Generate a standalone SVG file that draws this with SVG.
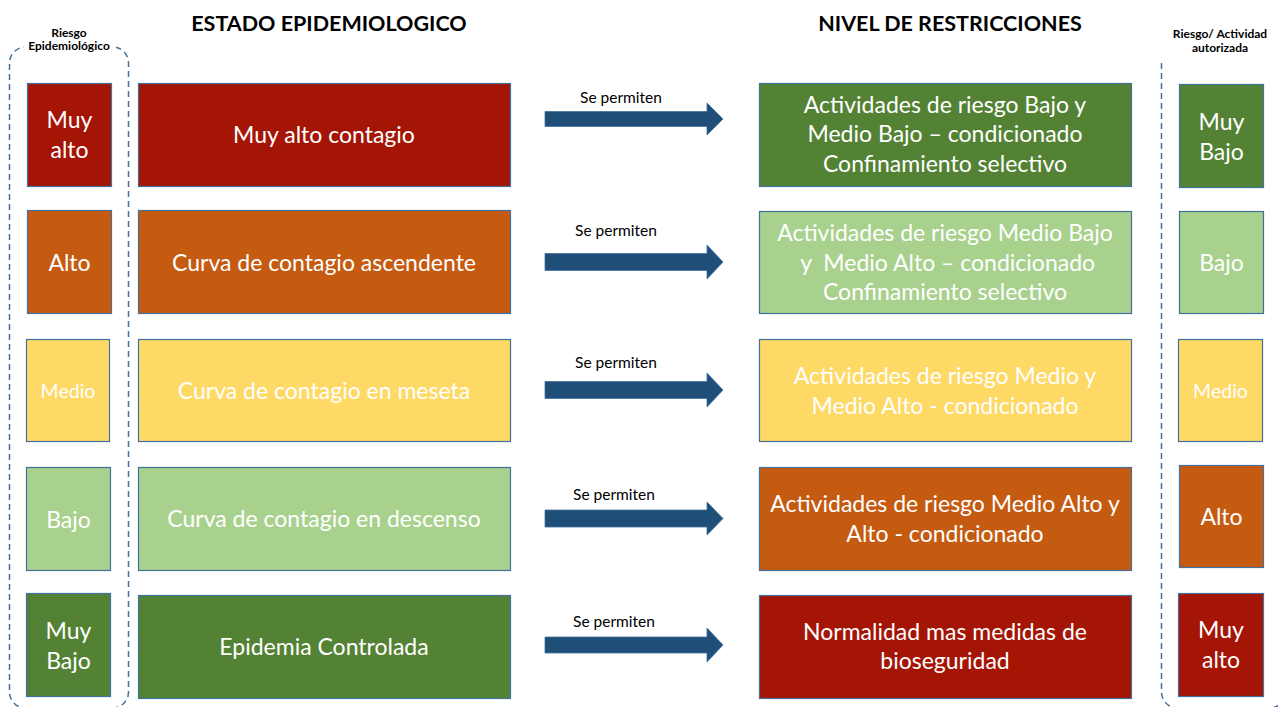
<svg xmlns="http://www.w3.org/2000/svg" width="1278" height="707" viewBox="0 0 1278 707">
<style>
text{font-family:Lato,"Open Sans","Liberation Sans",sans-serif;text-anchor:middle}
.box{stroke:#41719C;stroke-width:1.2}
.r{fill:#A51505}.o{fill:#C55A11}.y{fill:#FFD966}.lg{fill:#A9D18E}.dg{fill:#548235}
.t{fill:#FFFFFF;font-size:23px}
.ts{fill:#FFFFFF;font-size:19.5px}
.h{fill:#000000;font-size:21.5px;font-weight:bold}
.hs{fill:#000000;font-size:12px;font-weight:bold}
.lbl{fill:#000000;font-size:15.5px}
.br{fill:none;stroke:#41719C;stroke-width:1.5;stroke-dasharray:6 4}
.arr{fill:#1F4E79;stroke:#41719C;stroke-width:0.8}
</style>
<rect width="1278" height="707" fill="#FFFFFF"/>
<g id="brackets">
<rect class="br" x="9.5" y="47" width="119" height="661" rx="16"/>
<rect x="24" y="18" width="92" height="38" fill="#FFFFFF"/>
<rect class="br" x="1161.5" y="48" width="124" height="660" rx="16"/>
<rect x="1148" y="18" width="130" height="42" fill="#FFFFFF"/>
</g>
<g id="headers">
<text class="h" x="329" y="31">ESTADO EPIDEMIOLOGICO</text>
<text class="h" x="950" y="31">NIVEL DE RESTRICCIONES</text>
<text class="hs" x="69" y="37">Riesgo</text>
<text class="hs" x="69" y="50">Epidemiológico</text>
<text class="hs" x="1220" y="38">Riesgo/ Actividad</text>
<text class="hs" x="1220" y="52">autorizada</text>
</g>
<g id="riesgo-muy-alto"><rect class="box r" x="27.5" y="83.5" width="84" height="103"/><text class="t" x="69.5" y="128">Muy</text><text class="t" x="69.5" y="158">alto</text></g>
<g id="riesgo-alto"><rect class="box o" x="27.5" y="210.5" width="84" height="103"/><text class="t" x="69.5" y="271">Alto</text></g>
<g id="riesgo-medio"><rect class="box y" x="26.5" y="339.5" width="83" height="102"/><text class="ts" x="68" y="398">Medio</text></g>
<g id="riesgo-bajo"><rect class="box lg" x="26.5" y="467.5" width="84" height="103"/><text class="t" x="68.5" y="528">Bajo</text></g>
<g id="riesgo-muy-bajo"><rect class="box dg" x="26.5" y="593.5" width="84" height="103"/><text class="t" x="68.5" y="639">Muy</text><text class="t" x="68.5" y="669">Bajo</text></g>

<g id="estado-1"><rect class="box r" x="138.5" y="83.5" width="372" height="103"/><text class="t" x="324" y="143">Muy alto contagio</text></g>
<g id="estado-2"><rect class="box o" x="138.5" y="210.5" width="372" height="103"/><text class="t" x="324" y="271">Curva de contagio ascendente</text></g>
<g id="estado-3"><rect class="box y" x="138.5" y="339.5" width="372" height="102"/><text class="t" x="324" y="399">Curva de contagio en meseta</text></g>
<g id="estado-4"><rect class="box lg" x="138.5" y="467.5" width="372" height="103"/><text class="t" x="324" y="527">Curva de contagio en descenso</text></g>
<g id="estado-5"><rect class="box dg" x="138.5" y="595.5" width="372" height="103"/><text class="t" x="324" y="655">Epidemia Controlada</text></g>

<g id="connectors">
<path class="arr" d="M545 111.5 H707 V103 L723 119 L707 135 V126.5 H545 Z"/>
<text class="lbl" x="621" y="103">Se permiten</text>
<path class="arr" d="M545 253.5 H707 V245 L723 262 L707 279 V270.5 H545 Z"/>
<text class="lbl" x="616" y="236">Se permiten</text>
<path class="arr" d="M545 381.5 H707 V373 L723 390 L707 407 V398.5 H545 Z"/>
<text class="lbl" x="616" y="368">Se permiten</text>
<path class="arr" d="M545 510 H707 V502 L723 518.5 L707 535 V527 H545 Z"/>
<text class="lbl" x="614" y="500">Se permiten</text>
<path class="arr" d="M545 637 H707 V628 L723 645 L707 662 V653 H545 Z"/>
<text class="lbl" x="614" y="627">Se permiten</text>
</g>

<g id="nivel-1"><rect class="box dg" x="759.5" y="83.5" width="372" height="103"/><text class="t" x="945" y="113">Actividades de riesgo Bajo y</text><text class="t" x="945" y="142">Medio Bajo – condicionado</text><text class="t" x="945" y="172">Confinamiento selectivo</text></g>
<g id="nivel-2"><rect class="box lg" x="759.5" y="211.5" width="372" height="102"/><text class="t" x="945" y="241">Actividades de riesgo Medio Bajo</text><text class="t" x="945" y="271" xml:space="preserve"> y  Medio Alto – condicionado</text><text class="t" x="945" y="300">Confinamiento selectivo</text></g>
<g id="nivel-3"><rect class="box y" x="759.5" y="339.5" width="372" height="102"/><text class="t" x="945" y="384">Actividades de riesgo Medio y</text><text class="t" x="945" y="414">Medio Alto - condicionado</text></g>
<g id="nivel-4"><rect class="box o" x="759.5" y="467.5" width="372" height="103"/><text class="t" x="945" y="512">Actividades de riesgo Medio Alto y</text><text class="t" x="945" y="542">Alto - condicionado</text></g>
<g id="nivel-5"><rect class="box r" x="759.5" y="595.5" width="372" height="103"/><text class="t" x="945" y="640">Normalidad mas medidas de</text><text class="t" x="945" y="669">bioseguridad</text></g>

<g id="actividad-muy-bajo"><rect class="box dg" x="1179.5" y="84.5" width="84" height="103"/><text class="t" x="1221.5" y="130">Muy</text><text class="t" x="1221.5" y="160">Bajo</text></g>
<g id="actividad-bajo"><rect class="box lg" x="1179.5" y="211.5" width="84" height="102"/><text class="t" x="1221.5" y="271">Bajo</text></g>
<g id="actividad-medio"><rect class="box y" x="1178.5" y="339.5" width="84" height="102"/><text class="ts" x="1220.5" y="398">Medio</text></g>
<g id="actividad-alto"><rect class="box o" x="1179.5" y="465.5" width="84" height="102"/><text class="t" x="1221.5" y="525">Alto</text></g>
<g id="actividad-muy-alto"><rect class="box r" x="1178.5" y="593.5" width="85" height="103"/><text class="t" x="1221" y="638">Muy</text><text class="t" x="1221" y="668">alto</text></g>
</svg>
